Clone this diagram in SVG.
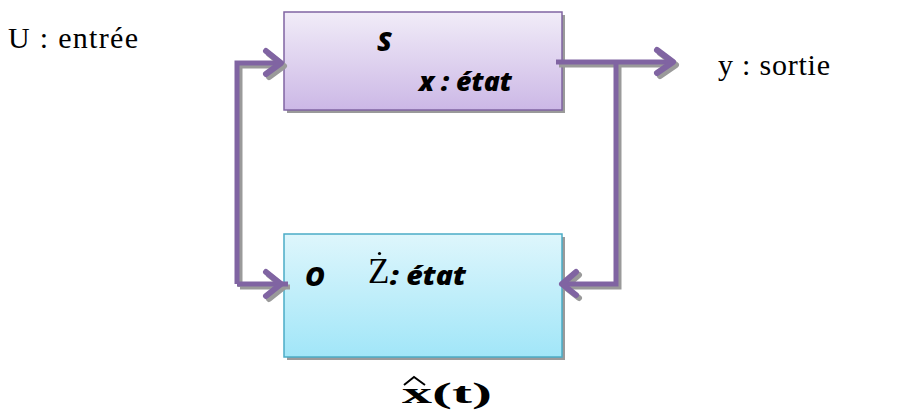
<svg xmlns="http://www.w3.org/2000/svg" width="904" height="410" viewBox="0 0 904 410">
<defs>
<linearGradient id="gS" x1="0" y1="0" x2="0" y2="1"><stop offset="0" stop-color="#f1ecf8"/><stop offset="1" stop-color="#ccb8e6"/></linearGradient>
<linearGradient id="gO" x1="0" y1="0" x2="0" y2="1"><stop offset="0" stop-color="#def6fc"/><stop offset="1" stop-color="#a1e6f8"/></linearGradient>
<style>
.sh{fill:#9a9a9a}
.cs{fill:none;stroke:#9a9a9a;stroke-width:5;stroke-linejoin:miter}
.c{fill:none;stroke:#8064a2;stroke-width:5;stroke-linejoin:miter}
.ah{fill:none;stroke:#8064a2;stroke-width:6;stroke-linecap:round;stroke-linejoin:round}
.ahs{fill:none;stroke:#9a9a9a;stroke-width:6;stroke-linecap:round;stroke-linejoin:round}
.lab{font-family:"Open Sans","Liberation Sans",sans-serif;font-weight:800;font-style:italic;font-size:27px;fill:#000}
.ser{font-family:"Liberation Serif",serif;font-size:30px;fill:#000}
</style>
</defs>
<g id="S">
<rect x="287" y="15" width="278" height="98" class="sh"/>
<rect x="284" y="12" width="278" height="98" fill="url(#gS)" stroke="#8064a2" stroke-width="1.5"/>
<text x="377" y="51" class="lab">S</text>
<text x="419" y="91" class="lab" textLength="93" lengthAdjust="spacingAndGlyphs">x : état</text>
</g>
<g id="O">
<rect x="287" y="237" width="278" height="123" class="sh"/>
<rect x="284" y="234" width="278" height="123" fill="url(#gO)" stroke="#4bacc6" stroke-width="1.5"/>
<text x="305" y="286" class="lab">O</text>
<text x="368" y="283" font-family="Liberation Serif,serif" font-size="35" fill="#000">Z</text>
<circle cx="379.5" cy="253.5" r="1.6" fill="#000"/>
<text x="390" y="285" class="lab" textLength="76" lengthAdjust="spacingAndGlyphs">: état</text>
</g>
<g id="connectors">
<path class="cs" d="M240 287 V66 H284 M290 287 H240 M559 65 H674 M619 65 V287 H566"/>
<path class="ahs" d="M269 54 L284 66 L269 77 M269 275 L284 287 L269 299 M660 53 L676 65 L660 76 M579 275 L565 287 L579 298"/>
<path class="c" d="M237 284 V63 H282 M288 284 H237 M556 62 H672 M616 62 V284 H564"/>
<path class="ah" d="M266 51 L281 63 L266 74 M266 272 L281 284 L266 296 M657 50 L673 62 L657 73 M576 272 L562 284 L576 295"/>
</g>
<g id="labels">
<text x="8" y="48" class="ser" textLength="130" lengthAdjust="spacing">U : entrée</text>
<text x="718" y="75" class="ser" textLength="112" lengthAdjust="spacing">y : sortie</text>
<text x="402" y="403" font-family="Liberation Serif,serif" font-weight="bold" font-size="29" fill="#000" textLength="90" lengthAdjust="spacingAndGlyphs">x(t)</text>
<path d="M404 385 L414 377 L425 385" fill="none" stroke="#000" stroke-width="2"/>
</g>
</svg>
